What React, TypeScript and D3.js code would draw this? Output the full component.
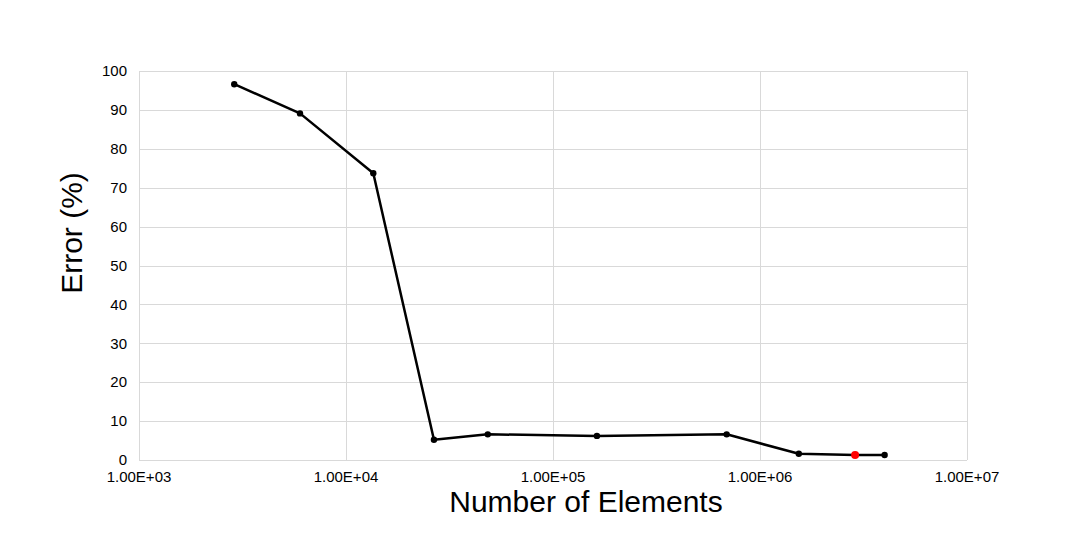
import React, { useEffect, useRef } from 'react';
import * as d3 from 'd3';

// values
const elements = [2885, 5995, 13550, 26600, 48400, 163000, 690000, 1540000, 2880000, 4000000];
const errors = [96.6, 89.1, 73.7, 5.2, 6.6, 6.2, 6.6, 1.6, 1.3, 1.3];
const highlightIndex = 8; // the red point
const xTicks = [1e3, 1e4, 1e5, 1e6, 1e7];
const yTicks = [0, 10, 20, 30, 40, 50, 60, 70, 80, 90, 100];

const App = () => {
  const ref = useRef<SVGSVGElement>(null);

  useEffect(() => {
    const width = 1076;
    const height = 558;
    const margin = { left: 139, right: 109, top: 71, bottom: 98 };
    const font = 'Arial, "Liberation Sans", sans-serif';

    const svg = d3.select(ref.current);
    svg.selectAll('*').remove();
    svg.attr('width', width).attr('height', height);

    svg.append('rect').attr('width', width).attr('height', height).attr('fill', '#fff');

    const x = d3.scaleLog().domain([1e3, 1e7]).range([margin.left, width - margin.right]);
    const y = d3.scaleLinear().domain([0, 100]).range([height - margin.bottom, margin.top]);

    // grid
    const grid = svg.append('g').attr('stroke', '#d9d9d9').attr('stroke-width', 1);
    grid.selectAll('.hgrid')
      .data(yTicks)
      .enter().append('line')
      .attr('x1', x(1e3)).attr('x2', x(1e7))
      .attr('y1', d => Math.round(y(d)) + 0.5).attr('y2', d => Math.round(y(d)) + 0.5);
    grid.selectAll('.vgrid')
      .data(xTicks)
      .enter().append('line')
      .attr('y1', y(0)).attr('y2', y(100))
      .attr('x1', d => Math.round(x(d)) + 0.5).attr('x2', d => Math.round(x(d)) + 0.5);

    // tick labels
    svg.append('g').selectAll('text')
      .data(yTicks)
      .enter().append('text')
      .attr('x', x(1e3) - 12)
      .attr('y', d => y(d))
      .attr('dy', '0.35em')
      .attr('text-anchor', 'end')
      .style('font-family', font)
      .style('font-size', '15px')
      .attr('fill', '#000')
      .text(d => d);

    svg.append('g').selectAll('text')
      .data(xTicks)
      .enter().append('text')
      .attr('x', d => x(d))
      .attr('y', y(0) + 22)
      .attr('text-anchor', 'middle')
      .style('font-family', font)
      .style('font-size', '15px')
      .attr('fill', '#000')
      .text(d => d3.format('.2e')(d).replace('e+', 'E+0').toUpperCase());

    // axis titles
    svg.append('text')
      .attr('x', 586)
      .attr('y', 512)
      .attr('text-anchor', 'middle')
      .style('font-family', font)
      .style('font-size', '30px')
      .text('Number of Elements');

    svg.append('text')
      .attr('transform', 'translate(82, 233) rotate(-90)')
      .attr('text-anchor', 'middle')
      .style('font-family', font)
      .style('font-size', '30px')
      .text('Error (%)');

    // series
    const pts = elements.map((e, i) => ({ e, err: errors[i], i }));
    const line = d3.line<{ e: number; err: number }>()
      .x(d => x(d.e))
      .y(d => y(d.err));

    svg.append('path')
      .datum(pts)
      .attr('d', line)
      .attr('fill', 'none')
      .attr('stroke', '#000')
      .attr('stroke-width', 2.5)
      .attr('stroke-linejoin', 'round');

    svg.append('g').selectAll('circle')
      .data(pts)
      .enter().append('circle')
      .attr('cx', d => x(d.e))
      .attr('cy', d => y(d.err))
      .attr('r', d => (d.i === highlightIndex ? 4 : 3.2))
      .attr('fill', d => (d.i === highlightIndex ? '#ff0000' : '#000'));
  }, []);

  return (
    <div style={{ position: 'absolute', left: 0, top: 0 }}>
      <svg ref={ref} style={{ display: 'block' }}></svg>
    </div>
  );
};

export default App;
